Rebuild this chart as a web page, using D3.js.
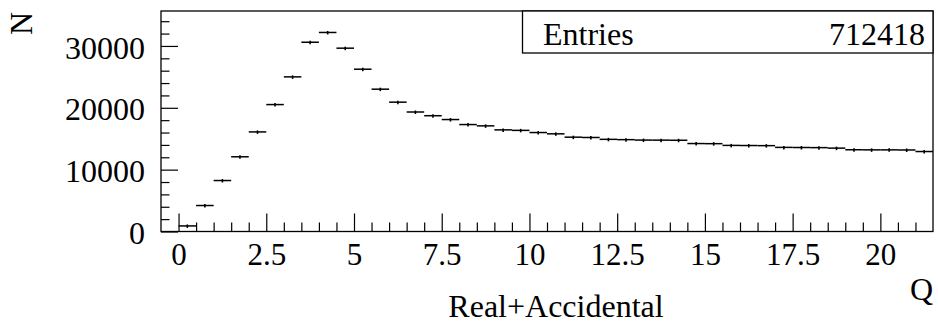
<!DOCTYPE html>
<html>
<head>
<meta charset="utf-8">
<script src="https://cdn.jsdelivr.net/npm/d3@7/dist/d3.min.js"></script>
<style>
  body { margin: 0; background: #fff; }
  svg { display: block; }
  text { font-family: "Liberation Serif", "Times New Roman", serif; fill: #000; }
</style>
</head>
<body>
<script>
// Histogram of Q, bins of width 0.5 (low edges)
const binLow = [
  0, 0.5, 1, 1.5, 2, 2.5, 3, 3.5, 4, 4.5, 5, 5.5, 6, 6.5, 7, 7.5, 8, 8.5, 9, 9.5,
  10, 10.5, 11, 11.5, 12, 12.5, 13, 13.5, 14, 14.5, 15, 15.5, 16, 16.5, 17, 17.5,
  18, 18.5, 19, 19.5, 20, 20.5, 21
];
const binWidth = 0.5;
const counts = [
  900, 4200, 8240, 12080, 16100, 20520, 25000, 30600, 32180, 29640,
  26240, 23010, 20910, 19320, 18720, 18100, 17290, 17080, 16430, 16350,
  16000, 15790, 15250, 15200, 14900, 14850, 14780, 14770, 14750, 14220,
  14200, 13920, 13900, 13880, 13600, 13580, 13560, 13480, 13220, 13200,
  13200, 13180, 12930
];
const entries = 712418;

const xMajorTicks = [0, 2.5, 5, 7.5, 10, 12.5, 15, 17.5, 20];
const xMajorLabels = ["0", "2.5", "5", "7.5", "10", "12.5", "15", "17.5", "20"];
const xMinorTicks = [0.5, 1, 1.5, 2, 3, 3.5, 4, 4.5, 5.5, 6, 6.5, 7, 8, 8.5, 9, 9.5,
  10.5, 11, 11.5, 12, 13, 13.5, 14, 14.5, 15.5, 16, 16.5, 17, 18, 18.5, 19, 19.5, 20.5, 21];
const yMajorTicks = [0, 10000, 20000, 30000];
const yMajorLabels = ["0", "10000", "20000", "30000"];
const yMinorTicks = [2000, 4000, 6000, 8000, 12000, 14000, 16000, 18000,
  22000, 24000, 26000, 28000, 32000, 34000];

const W = 938, H = 322;
const frame = { left: 161, right: 933, top: 11, bottom: 231.5 };

const svg = d3.select("body").append("svg")
  .attr("width", W).attr("height", H)
  .attr("viewBox", `0 0 ${W} ${H}`);
svg.append("rect").attr("width", W).attr("height", H).attr("fill", "#fff");

const x = d3.scaleLinear().domain([-0.5, 21.5]).range([frame.left, frame.right]);
const y = d3.scaleLinear().domain([0, 35650]).range([frame.bottom, frame.top]);

// x axis: major and minor ticks pointing into the frame
const gx = svg.append("g").attr("transform", `translate(0,${frame.bottom})`);
gx.append("g")
  .call(d3.axisBottom(x).tickValues(xMinorTicks).tickSize(-9).tickFormat(""))
  .call(g => g.select(".domain").remove());
gx.append("g")
  .call(d3.axisBottom(x).tickValues(xMajorTicks).tickSize(-18).tickPadding(11)
    .tickFormat((d, i) => xMajorLabels[i]))
  .call(g => g.select(".domain").remove())
  .call(g => g.selectAll("text").attr("font-size", 31).attr("font-family", null).attr("fill", "#000"));

// y axis
const gy = svg.append("g").attr("transform", `translate(${frame.left},0)`);
gy.append("g")
  .call(d3.axisLeft(y).tickValues(yMinorTicks).tickSize(-8.5).tickFormat(""))
  .call(g => g.select(".domain").remove());
gy.append("g")
  .call(d3.axisLeft(y).tickValues(yMajorTicks).tickSize(-17).tickPadding(16)
    .tickFormat((d, i) => yMajorLabels[i]))
  .call(g => g.select(".domain").remove())
  .call(g => g.selectAll("text").attr("font-size", 32).attr("font-family", null)
    .attr("fill", "#000").attr("dy", "0.38em"));

svg.selectAll(".tick line").attr("stroke", "#000").attr("stroke-width", 1.2);

// histogram: horizontal bin segments and error bars (at least 2 px each side)
const bins = binLow.map((lo, i) => ({ lo, hi: lo + binWidth, v: counts[i] }));
const hist = svg.append("g").attr("stroke", "#000").attr("fill", "none");
hist.selectAll("line.bin").data(bins).join("line").attr("class", "bin")
  .attr("stroke-width", 1.5)
  .attr("x1", d => x(d.lo)).attr("x2", d => x(d.hi))
  .attr("y1", d => y(d.v)).attr("y2", d => y(d.v));
hist.selectAll("line.err").data(bins).join("line").attr("class", "err")
  .attr("stroke-width", 1.6)
  .attr("x1", d => x(d.lo + binWidth / 2)).attr("x2", d => x(d.lo + binWidth / 2))
  .attr("y1", d => Math.max(y(d.v - Math.sqrt(d.v)), y(d.v) + 2))
  .attr("y2", d => Math.min(y(d.v + Math.sqrt(d.v)), y(d.v) - 1.5));

// frame
svg.append("rect")
  .attr("x", frame.left).attr("y", frame.top)
  .attr("width", frame.right - frame.left).attr("height", frame.bottom - frame.top)
  .attr("fill", "none").attr("stroke", "#000").attr("stroke-width", 1.3);

// statistics box
const statsBox = { left: 522.5, bottom: 53 };
svg.append("rect")
  .attr("x", statsBox.left).attr("y", frame.top)
  .attr("width", frame.right - statsBox.left).attr("height", statsBox.bottom - frame.top)
  .attr("fill", "#fff").attr("stroke", "#000").attr("stroke-width", 1.3);
svg.append("text").attr("x", 543).attr("y", 45).attr("font-size", 32).text("Entries");
svg.append("text").attr("x", 925).attr("y", 45).attr("font-size", 32)
  .attr("text-anchor", "end").text(String(entries));

// axis titles
svg.append("text").attr("x", frame.right).attr("y", 300).attr("font-size", 32)
  .attr("text-anchor", "end").text("Q");
svg.append("text").attr("x", 556).attr("y", 317).attr("font-size", 32)
  .attr("text-anchor", "middle").text("Real+Accidental");
svg.append("text").attr("transform", "translate(32,12) rotate(-90)")
  .attr("font-size", 32).attr("text-anchor", "end").text("N");
</script>
</body>
</html>
